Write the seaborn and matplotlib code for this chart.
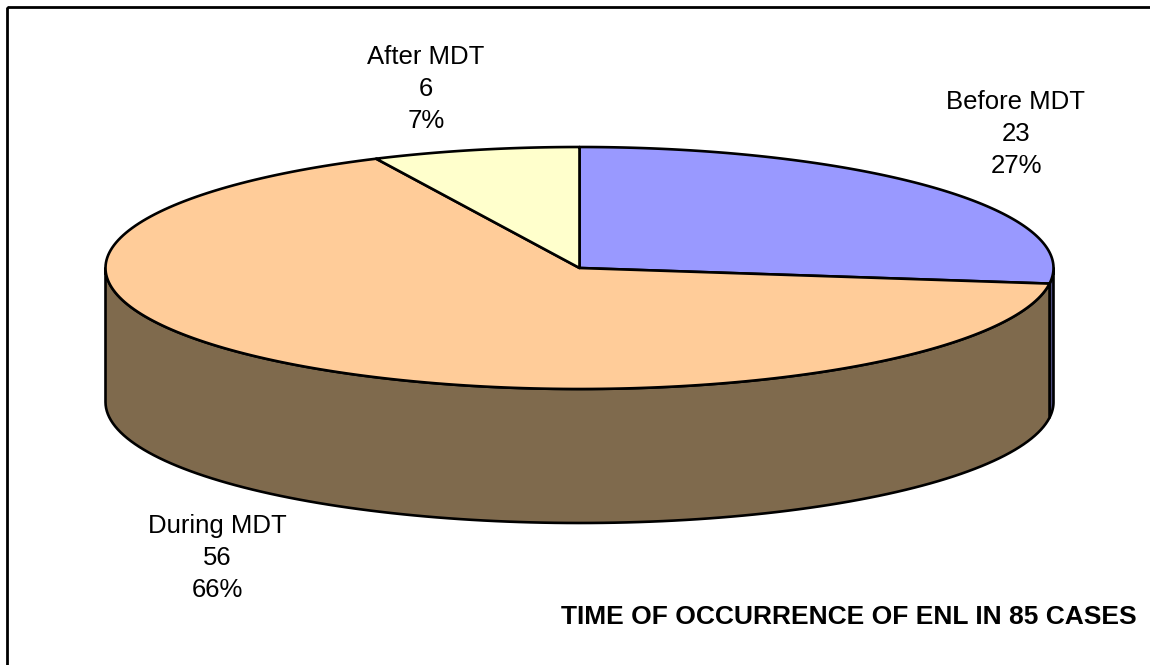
import numpy as np
import seaborn as sns
import matplotlib.pyplot as plt
from matplotlib.patches import Polygon, Rectangle

# data
labels = ["Before MDT", "During MDT", "After MDT"]
counts = [23, 56, 6]
title = "TIME OF OCCURRENCE OF ENL IN 85 CASES"

# colours of top faces and side walls
top_colors = ["#9999FF", "#FFCC99", "#FFFFCC"]
side_colors = ["#4D4D80", "#7F6A4D", "#808066"]

sns.set_theme(style="white")
plt.rcParams['font.family'] = ['Liberation Sans', 'DejaVu Sans']

fig = plt.figure(figsize=(11.5, 6.65), dpi=100)
ax = fig.add_axes([0, 0, 1, 1])
ax.set_xlim(0, 1150)
ax.set_ylim(665, 0)
ax.axis('off')

# pie geometry (pixels)
cx, cy = 579.5, 268
a, b = 474, 121
depth = 134


def pt(theta, dz=0):
    t = np.radians(theta)
    return np.column_stack([cx + a * np.cos(t), cy - b * np.sin(t) + dz])


# angles: start at 12 o'clock, go clockwise
total = sum(counts)
spans = [c / total * 360 for c in counts]
bounds = []
start = 90
for s in spans:
    bounds.append((start - s, start))
    start -= s

# side walls (front half only: 180..360 degrees)
for (t1, t2), col in zip(bounds, side_colors):
    lo, hi = t1 % 360, t1 % 360 + (t2 - t1)
    for off in (0, 360, -360):
        s1 = max(lo + off, 180)
        s2 = min(hi + off, 360)
        if s2 > s1:
            th = np.linspace(s1, s2, 120)
            poly = np.vstack([pt(th), pt(th[::-1], depth)])
            ax.add_patch(Polygon(poly, closed=True, facecolor=col,
                                 edgecolor='black', lw=1.9, joinstyle='round'))

# top faces
for (t1, t2), col in zip(bounds, top_colors):
    th = np.linspace(t1, t2, 200)
    poly = np.vstack([[cx, cy], pt(th)])
    ax.add_patch(Polygon(poly, closed=True, facecolor=col,
                         edgecolor='black', lw=1.9, joinstyle='round'))

# data labels
label_xy = [(1016, 134), (217, 558), (426, 89)]
for lab, c, (x, y) in zip(labels, counts, label_xy):
    txt = f"{lab}\n{c}\n{round(c / total * 100)}%"
    ax.text(x, y, txt, ha='center', va='center', fontsize=18.5,
            linespacing=1.43, color='black')

ax.text(1137, 617, title, ha='right', va='center', fontsize=19,
        fontweight='bold', color='black')

# chart frame
ax.add_patch(Rectangle((7, 7), 1200, 700, fill=False, edgecolor='black', lw=2))

fig.savefig('out.png', dpi=100)
